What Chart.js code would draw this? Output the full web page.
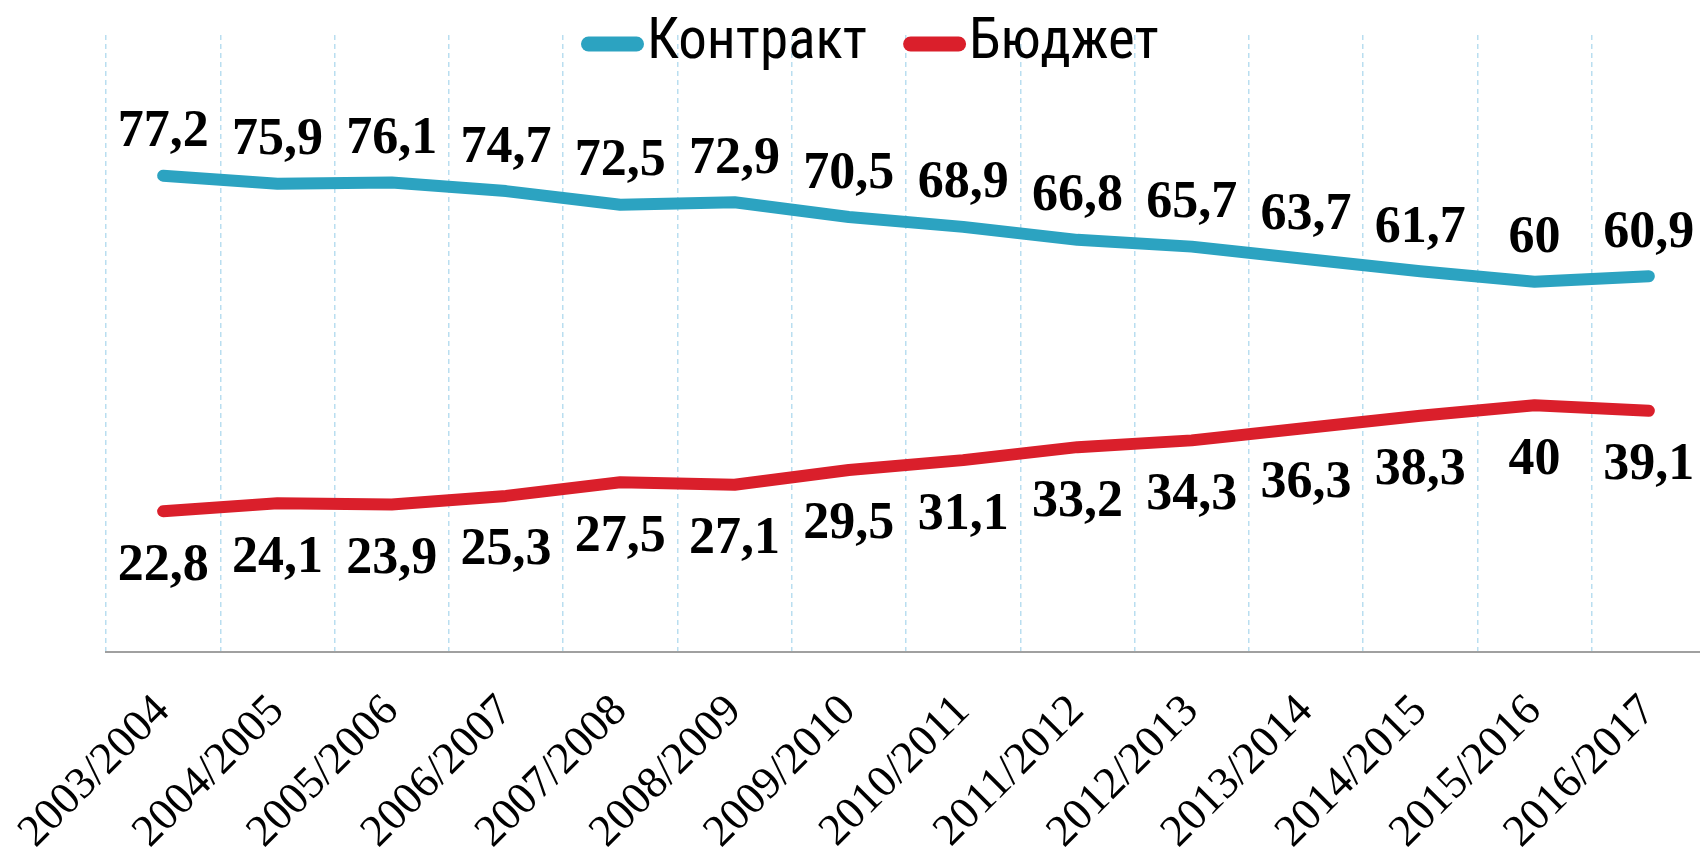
<!DOCTYPE html>
<html><head><meta charset="utf-8">
<script src="https://cdn.jsdelivr.net/npm/chart.js@4/dist/chart.umd.min.js"></script>
<style>html,body{margin:0;padding:0;overflow:hidden;background:#fff}#wrap{width:1708px;height:861px;position:relative}</style>
</head><body><div id="wrap"><canvas id="c" width="1708" height="861"></canvas></div>
<script>
const categories = ['2003/2004','2004/2005','2005/2006','2006/2007','2007/2008','2008/2009','2009/2010','2010/2011','2011/2012','2012/2013','2013/2014','2014/2015','2015/2016','2016/2017'];
const contractValues = [77.2,75.9,76.1,74.7,72.5,72.9,70.5,68.9,66.8,65.7,63.7,61.7,60,60.9];
const budgetValues = [22.8,24.1,23.9,25.3,27.5,27.1,29.5,31.1,33.2,34.3,36.3,38.3,40,39.1];
const seriesNames = ['Контракт','Бюджет'];
const seriesColors = ['#2ca3c1','#da1f2b'];
const yMin = 0, yMax = 100;

const fmt = v => String(v).replace('.', ',');

const valueLabels = {
  id: 'valueLabels',
  afterDatasetsDraw(chart) {
    const ctx = chart.ctx;
    ctx.save();
    ctx.font = 'bold 52px "Liberation Serif"';
    ctx.fillStyle = '#000';
    ctx.textAlign = 'center';
    ctx.textBaseline = 'alphabetic';
    chart.data.datasets.forEach((ds, i) => {
      const meta = chart.getDatasetMeta(i);
      const off = i === 0 ? -47 : 51;
      meta.data.forEach((pt, j) => {
        ctx.fillText(fmt(ds.data[j]), pt.x, pt.y + off + 17.5);
      });
    });
    ctx.restore();
  }
};

const customLegend = {
  id: 'customLegend',
  afterDraw(chart) {
    const ctx = chart.ctx;
    ctx.save();
    ctx.font = '57px "Liberation Sans Narrow", "Roboto Condensed", Roboto, sans-serif';
    ctx.textBaseline = 'alphabetic';
    ctx.textAlign = 'left';
    let x = 581;
    const yc = 44;
    chart.data.datasets.forEach((ds, i) => {
      ctx.strokeStyle = ds.borderColor;
      ctx.lineWidth = 15;
      ctx.lineCap = 'round';
      ctx.beginPath();
      ctx.moveTo(x + 7.5, yc);
      ctx.lineTo(x + 63 - 7.5, yc);
      ctx.stroke();
      x += 66;
      ctx.fillStyle = '#000';
      ctx.fillText(ds.label, x, 58);
      x += ctx.measureText(ds.label).width + 36;
    });
    ctx.restore();
  }
};

new Chart(document.getElementById('c'), {
  type: 'line',
  data: {
    labels: categories,
    datasets: [
      { label: seriesNames[0], data: contractValues, borderColor: seriesColors[0], backgroundColor: seriesColors[0],
        borderWidth: 12, borderCapStyle: 'round', borderJoinStyle: 'round', pointRadius: 0, tension: 0, fill: false },
      { label: seriesNames[1], data: budgetValues, borderColor: seriesColors[1], backgroundColor: seriesColors[1],
        borderWidth: 12, borderCapStyle: 'round', borderJoinStyle: 'round', pointRadius: 0, tension: 0, fill: false }
    ]
  },
  options: {
    responsive: false,
    animation: false,
    devicePixelRatio: 1,
    layout: { padding: { left: 106, right: 2, top: 35, bottom: 0 } },
    plugins: { legend: { display: false }, tooltip: { enabled: false } },
    scales: {
      x: {
        offset: true,
        grid: { offset: true, color: '#b9def0', lineWidth: 1.5, drawTicks: false },
        border: { color: '#a0a0a0', width: 2, dash: [5, 4] },
        ticks: { font: { family: 'Liberation Serif', size: 45 }, color: '#000', maxRotation: 45, minRotation: 45, padding: 33, autoSkip: false },
        afterFit(s) { s.height = 209; s.paddingLeft = 0; s.paddingRight = 0; }
      },
      y: { display: false, min: yMin, max: yMax }
    }
  },
  plugins: [valueLabels, customLegend]
});
</script></body></html>
